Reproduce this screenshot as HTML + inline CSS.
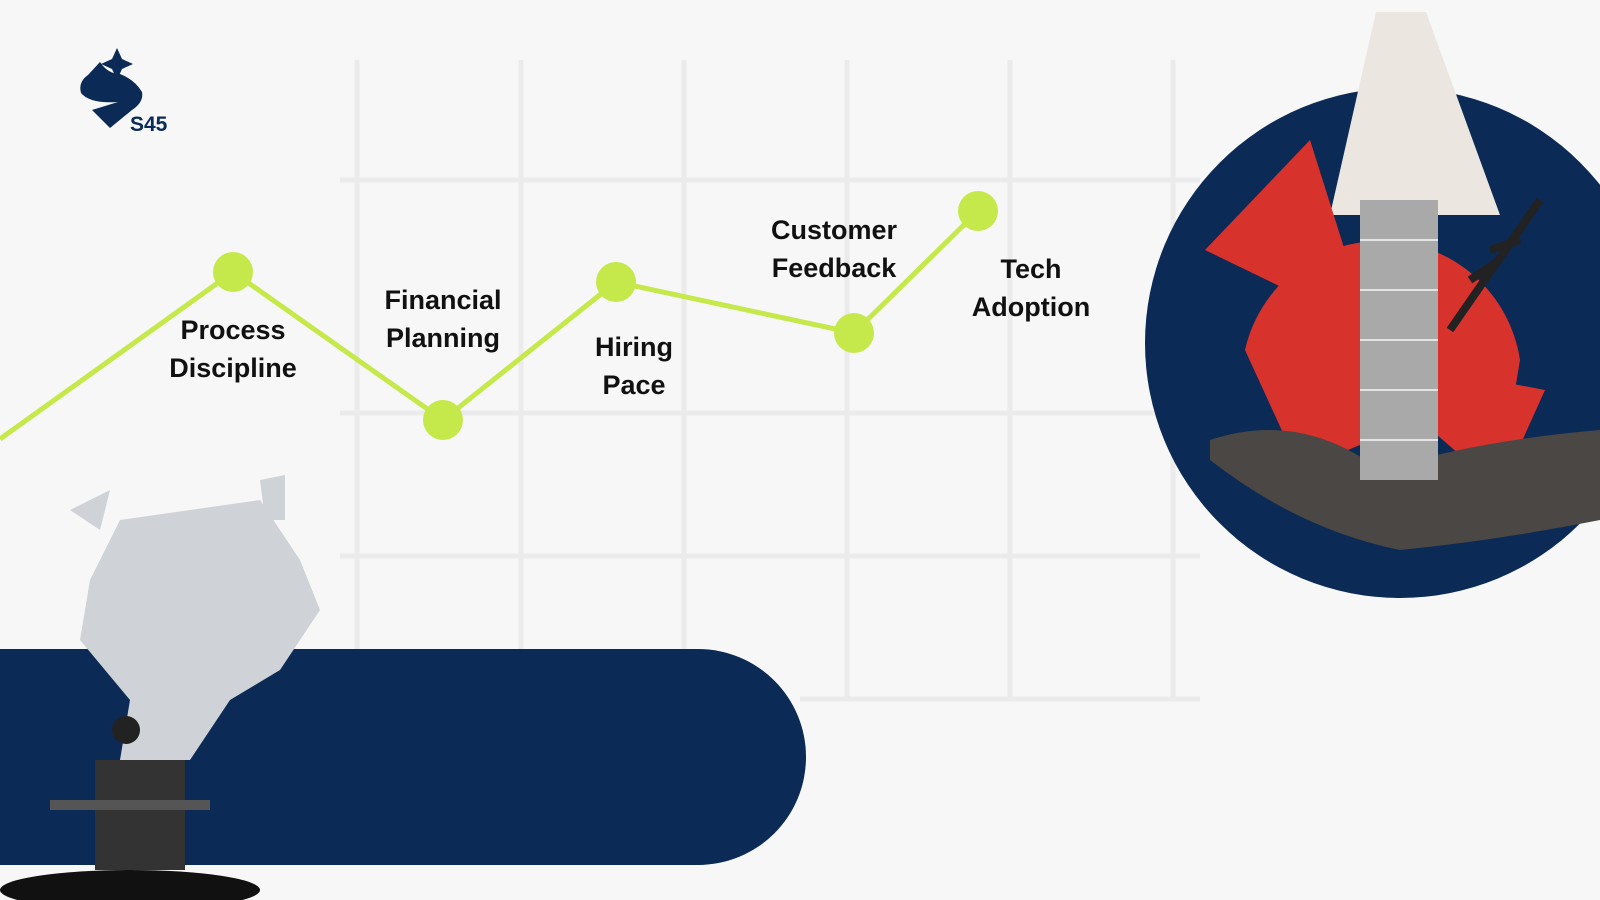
<!DOCTYPE html>
<html><head><meta charset="utf-8"><style>
html,body{margin:0;padding:0;width:1600px;height:900px;overflow:hidden;background:#f7f7f7;}
.t{position:absolute;font-family:"Liberation Sans",sans-serif;font-weight:bold;font-size:27px;color:#111;text-align:center;line-height:38px;width:220px;}
</style></head><body>
<svg width="1600" height="900" style="position:absolute;left:0;top:0">
<g stroke="#ebebeb" stroke-width="5" fill="none">
<line x1="357" y1="60" x2="357" y2="650"/><line x1="521" y1="60" x2="521" y2="650"/>
<line x1="684" y1="60" x2="684" y2="700"/><line x1="847" y1="60" x2="847" y2="700"/>
<line x1="1010" y1="60" x2="1010" y2="700"/><line x1="1173" y1="60" x2="1173" y2="700"/>
<line x1="340" y1="413" x2="1200" y2="413"/><line x1="340" y1="556" x2="1200" y2="556"/>
<line x1="800" y1="699" x2="1200" y2="699"/><line x1="340" y1="180" x2="1200" y2="180"/>
</g>
<polyline points="0,439 233,272 443,420 616,282 854,333 978,211" fill="none" stroke="#c5e84a" stroke-width="5"/>
<g fill="#c5e84a"><circle cx="233" cy="272" r="20"/><circle cx="443" cy="420" r="20"/><circle cx="616" cy="282" r="20"/><circle cx="854" cy="333" r="20"/><circle cx="978" cy="211" r="20"/></g>
<path d="M0,649 H698 A108,108 0 0 1 698,865 H0 Z" fill="#0b2a55"/>
<circle cx="1400" cy="343" r="255" fill="#0b2a55"/>
<polygon points="1376,12 1426,12 1500,215 1330,215" fill="#ebe6df"/>
<polygon points="1205,250 1310,140 1370,330" fill="#d8322d"/>
<path d="M1245,350 A140,140 0 0 1 1520,360 L1500,480 L1420,420 L1300,470 Z" fill="#d8322d"/>
<polygon points="1440,370 1545,390 1500,490 1420,420" fill="#d8322d"/>
<path d="M1210,440 Q1300,410 1380,470 Q1480,440 1600,430 L1600,520 Q1500,540 1400,550 Q1300,530 1210,460 Z" fill="#4a4744"/>
<rect x="1360" y="200" width="78" height="280" fill="#a9a9a9"/>
<g stroke="#e4e4e4" stroke-width="2"><line x1="1360" y1="240" x2="1438" y2="240"/><line x1="1360" y1="290" x2="1438" y2="290"/><line x1="1360" y1="340" x2="1438" y2="340"/><line x1="1360" y1="390" x2="1438" y2="390"/><line x1="1360" y1="440" x2="1438" y2="440"/></g>
<path d="M1450,330 L1540,200 M1470,280 l30,-20 M1490,250 l30,-10" stroke="#222" stroke-width="8"/>
<g fill="#cfd2d7">
<polygon points="120,520 260,500 300,560 320,610 280,670 230,700 190,760 120,760 130,700 80,640 90,580"/>
<polygon points="70,510 110,490 100,530"/><polygon points="260,480 285,475 285,520 265,520"/>
</g>
<rect x="95" y="760" width="90" height="110" fill="#333"/>
<circle cx="126" cy="730" r="14" fill="#222"/>
<ellipse cx="130" cy="890" rx="130" ry="20" fill="#111"/>
<rect x="50" y="800" width="160" height="10" fill="#555"/>
<g fill="#0b2a55">
<path d="M88,75 L100,62 Q108,74 120,74 Q135,80 142,92 Q144,102 132,110 L110,128 L92,110 L118,102 Q90,104 81,93 Q78,82 88,75 Z"/>
<path d="M117,48 l5,11 l11,5 l-11,5 l-5,11 l-5,-11 l-11,-5 l11,-5 z"/>
</g>
<text x="130" y="131" font-family="Liberation Sans" font-weight="bold" font-size="21" fill="#0b2a55">S45</text>
</svg>
<div class="t" style="left:123px;top:311px">Process<br>Discipline</div>
<div class="t" style="left:333px;top:281px">Financial<br>Planning</div>
<div class="t" style="left:524px;top:328px">Hiring<br>Pace</div>
<div class="t" style="left:724px;top:211px">Customer<br>Feedback</div>
<div class="t" style="left:921px;top:250px">Tech<br>Adoption</div>
</body></html>
